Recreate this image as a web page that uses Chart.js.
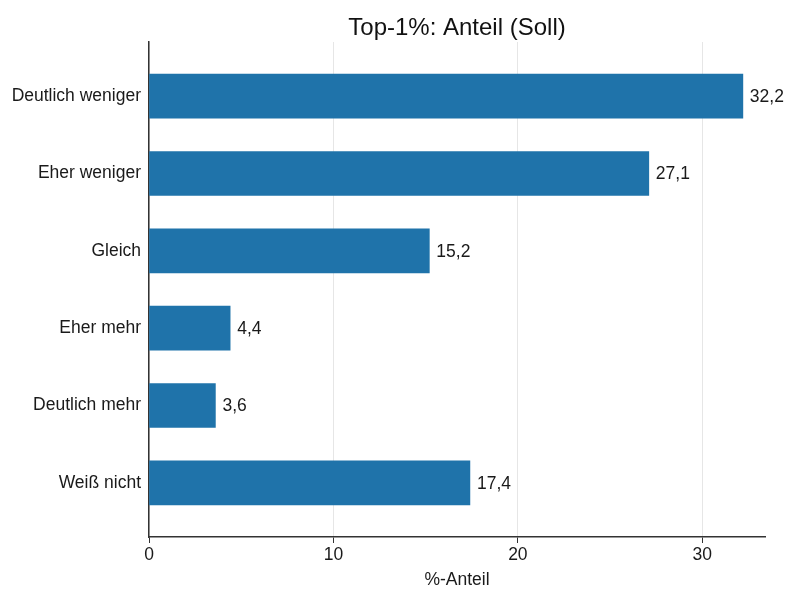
<!DOCTYPE html>
<html>
<head>
<meta charset="utf-8">
<script src="https://cdn.jsdelivr.net/npm/chart.js@4"></script>
<style>
  html, body { margin:0; padding:0; background:#fff; }
  #wrap { width:786px; height:591px; }
</style>
</head>
<body>
<div id="wrap"><canvas id="chart" width="786" height="591"></canvas></div>
<script>
const categories = ['Deutlich weniger', 'Eher weniger', 'Gleich', 'Eher mehr', 'Deutlich mehr', 'Weiß nicht'];
const shares = [32.2, 27.1, 15.2, 4.4, 3.6, 17.4];
const xTicks = [0, 10, 20, 30];

const fmt = v => v.toFixed(1).replace('.', ',');

// value labels at the end of each bar
const barLabels = {
  id: 'barLabels',
  afterDatasetsDraw(chart) {
    const ctx = chart.ctx;
    const meta = chart.getDatasetMeta(0);
    ctx.save();
    ctx.font = '17.5px "Liberation Sans", Arial, sans-serif';
    ctx.fillStyle = '#1a1a1a';
    ctx.textAlign = 'left';
    ctx.textBaseline = 'middle';
    meta.data.forEach((bar, i) => {
      ctx.fillText(fmt(shares[i]), bar.x + 7, bar.y + 1);
    });
    ctx.restore();
  }
};

Chart.defaults.font.family = '"Liberation Sans", Arial, sans-serif';
Chart.defaults.color = '#1a1a1a';

new Chart(document.getElementById('chart'), {
  type: 'bar',
  data: {
    datasets: [{
      data: shares.map((v, i) => ({ x: v, y: i })),
      backgroundColor: '#1f73aa',
      borderWidth: 0,
      barThickness: 44
    }]
  },
  options: {
    indexAxis: 'y',
    responsive: false,
    animation: false,
    layout: { padding: { left: 0, right: 21, top: 0, bottom: 0 } },
    scales: {
      x: {
        type: 'linear',
        min: 0,
        max: 33.4,
        afterBuildTicks: s => { s.ticks = xTicks.map(v => ({ value: v })); },
        ticks: { font: { size: 17.5 }, color: '#1a1a1a', padding: 2 },
        grid: { color: '#e6e6e6', tickColor: '#333', tickLength: 6, lineWidth: 1 },
        border: { color: '#333', width: 1.5 },
        title: { display: true, text: '%-Anteil', font: { size: 17.5 }, color: '#1a1a1a', padding: { top: 5, bottom: 0 } },
        afterFit: s => { s.height = 54; }
      },
      y: {
        type: 'linear',
        reverse: true,
        offset: false,
        min: -0.7,
        max: 5.7,
        afterBuildTicks: s => { s.ticks = categories.map((c, i) => ({ value: i })); },
        ticks: {
          font: { size: 17.5 }, color: '#1a1a1a', padding: 8,
          callback: v => categories[v]
        },
        grid: { drawOnChartArea: false, drawTicks: false, offset: false },
        border: { color: '#333', width: 1.5 },
        afterFit: s => { s.width = 149; }
      }
    },
    plugins: {
      legend: { display: false },
      tooltip: { enabled: false },
      title: {
        display: true,
        fullSize: false,
        text: 'Top-1%: Anteil (Soll)',
        font: { size: 24, weight: 'normal', lineHeight: 1 },
        color: '#111',
        padding: { top: 16, bottom: 2 }
      }
    }
  },
  plugins: [barLabels]
});
</script>
</body>
</html>
